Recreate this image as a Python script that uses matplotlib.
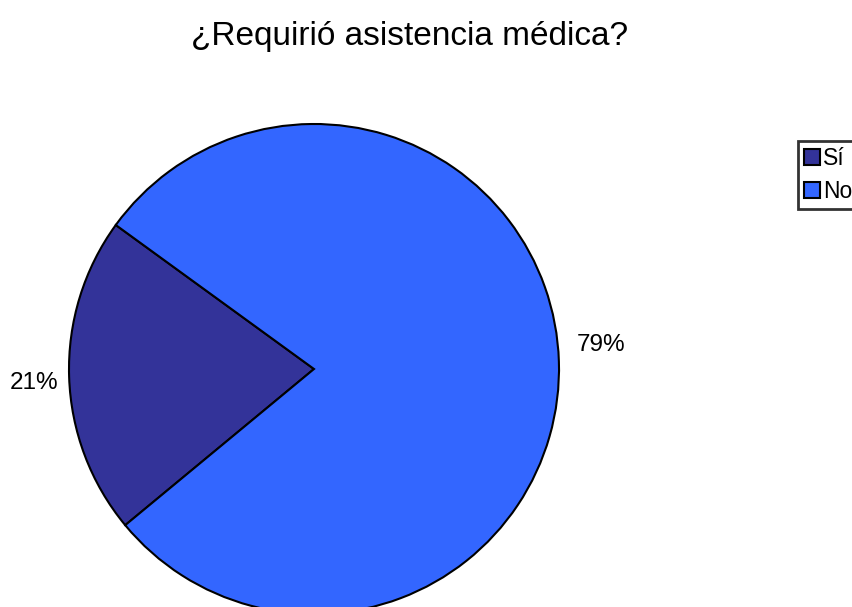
import matplotlib.pyplot as plt

plt.rcParams['font.family'] = ['Liberation Sans', 'DejaVu Sans']

# data
categories = ["Sí", "No"]
shares = [21, 79]
colors = ['#333399', '#3366FF']

fig = plt.figure(figsize=(8.53, 6.07), dpi=100)

# square axes so the pie sits where the original one does (bottom slightly cut)
ax = fig.add_axes([69 / 853, -7 / 607, 490 / 853, 490 / 607])
wedges, texts = ax.pie(shares, colors=colors, startangle=144, counterclock=True,
                       labels=[f"{v}%" for v in shares], labeldistance=1.065,
                       radius=1, wedgeprops=dict(edgecolor='black', linewidth=1.5),
                       textprops=dict(fontsize=17.5))
ax.set_xlim(-1, 1)
ax.set_ylim(-1, 1)
for w in wedges:
    w.set_clip_on(False)

# nudge the percent labels to where the original puts them
texts[0].set_position((-1.045, -0.057))
texts[0].set_va('center')
texts[1].set_position((1.073, 0.098))
texts[1].set_va('center')

fig.text(410 / 853, 1 - 36 / 607, "¿Requirió asistencia médica?", ha='center', va='center', fontsize=24)

leg = fig.legend(wedges, categories, loc='upper left', bbox_to_anchor=(798 / 853, 1 - 141 / 607),
                 borderaxespad=0, fontsize=16.5, handlelength=0.7, handleheight=0.7,
                 handletextpad=0.15, labelspacing=0.45, borderpad=0.25, fancybox=False)
leg.get_frame().set_edgecolor('black')
leg.get_frame().set_linewidth(2)

fig.savefig('out.png', dpi=100)
